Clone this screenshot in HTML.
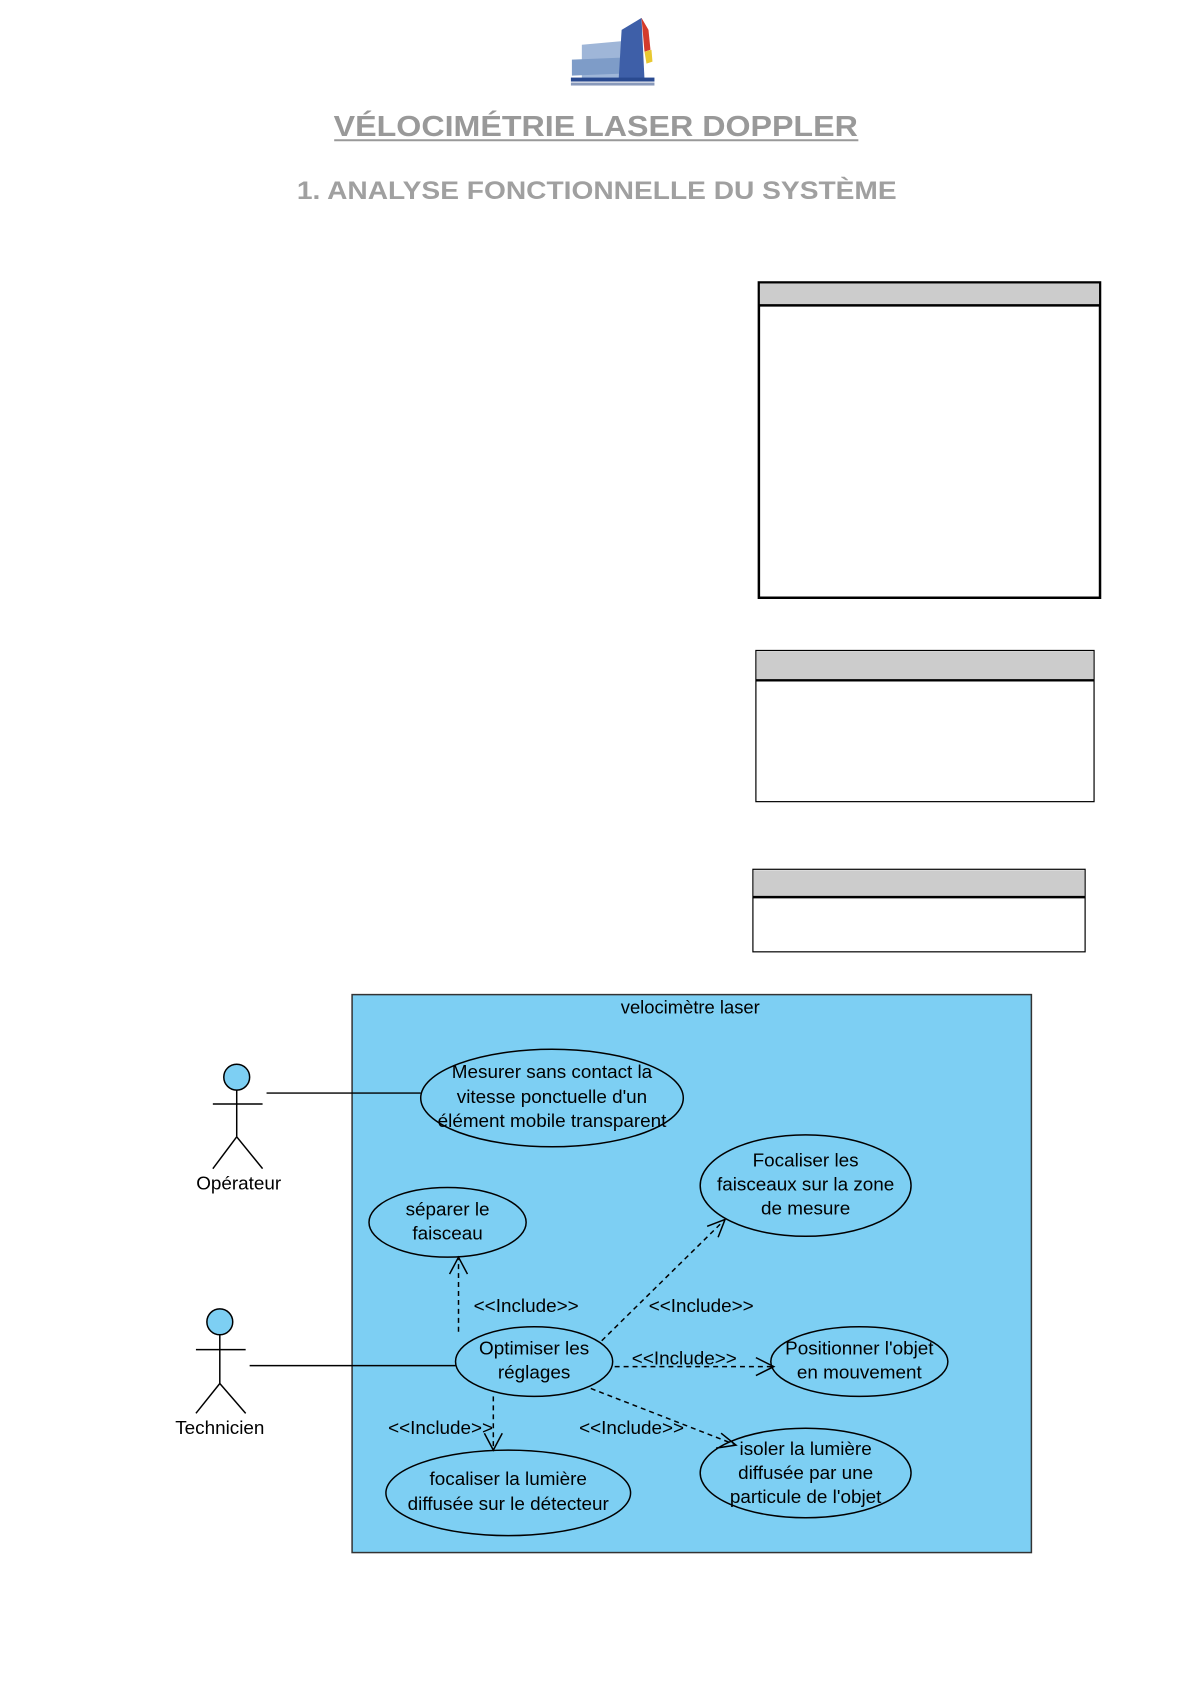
<!DOCTYPE html>
<html><head><meta charset="utf-8"><style>
body{margin:0;background:#fff;}
svg{display:block;}
text{font-family:"Liberation Sans",sans-serif;}
</style></head><body>
<svg width="1191" height="1684" viewBox="0 0 1191 1684" xmlns="http://www.w3.org/2000/svg">
<rect width="1191" height="1684" fill="#fff"/>
<g transform="scale(0.9946)">
<!-- logo -->
<polygon points="585,45 640,40 640,78 585,80" fill="#9fb6d8"/>
<polygon points="575,60 625,58 625,74 575,76" fill="#7e9cc8"/>
<polygon points="625,30 645,18 648,80 622,80" fill="#3e5fa8"/>
<polygon points="645,18 652,30 654,50 648,52" fill="#d43b2b"/>
<polygon points="648,52 655,50 656,62 650,64" fill="#e8c830"/>
<rect x="574" y="78" width="84" height="4" fill="#2a4a90"/>
<rect x="574" y="83" width="84" height="3" fill="#8899bb"/>
<!-- titles -->
<text x="599" y="137" font-size="29" font-weight="bold" fill="#999" text-anchor="middle" textLength="527" lengthAdjust="spacingAndGlyphs">VÉLOCIMÉTRIE LASER DOPPLER</text>
<line x1="336" y1="141" x2="863" y2="141" stroke="#999" stroke-width="2"/>
<text x="600" y="200" font-size="25" font-weight="bold" fill="#a0a0a0" text-anchor="middle" textLength="603" lengthAdjust="spacingAndGlyphs">1. ANALYSE FONCTIONNELLE DU SYSTÈME</text>
<!-- boxes -->
<rect x="763" y="284" width="343" height="317" fill="#fff" stroke="#000" stroke-width="2.5"/>
<rect x="764" y="285" width="341" height="21" fill="#cccccc"/>
<line x1="763" y1="307" x2="1106" y2="307" stroke="#000" stroke-width="2.5"/>
<rect x="760" y="654" width="340" height="152" fill="#fff" stroke="#000" stroke-width="1.2"/>
<rect x="761" y="655" width="338" height="28" fill="#cccccc"/>
<line x1="760" y1="684" x2="1100" y2="684" stroke="#000" stroke-width="2.5"/>
<rect x="757" y="874" width="334" height="83" fill="#fff" stroke="#000" stroke-width="1.2"/>
<rect x="758" y="875" width="332" height="26" fill="#cccccc"/>
<line x1="757" y1="902" x2="1091" y2="902" stroke="#000" stroke-width="2.5"/>
<!-- system -->
<rect x="354" y="1000" width="683" height="561" fill="#7dcff3" stroke="#333" stroke-width="1.5"/>
<text x="694" y="1019" font-size="18.5" text-anchor="middle">velocimètre laser</text>
<g fill="#7dcff3" stroke="#000" stroke-width="1.5">
<ellipse cx="555" cy="1104" rx="132" ry="49"/>
<ellipse cx="810" cy="1192" rx="106" ry="51"/>
<ellipse cx="450" cy="1229" rx="79" ry="35"/>
<ellipse cx="537" cy="1369" rx="79" ry="35"/>
<ellipse cx="864" cy="1369" rx="89" ry="35"/>
<ellipse cx="511" cy="1501" rx="123" ry="43"/>
<ellipse cx="810" cy="1481" rx="106" ry="45"/>
</g>
<g font-size="19" text-anchor="middle" fill="#000">
<text x="555" y="1084">Mesurer sans contact la</text>
<text x="555" y="1109">vitesse ponctuelle d'un</text>
<text x="555" y="1133">élément mobile transparent</text>
<text x="810" y="1173">Focaliser les</text>
<text x="810" y="1197">faisceaux sur la zone</text>
<text x="810" y="1221">de mesure</text>
<text x="450" y="1222">séparer le</text>
<text x="450" y="1246">faisceau</text>
<text x="537" y="1362">Optimiser les</text>
<text x="537" y="1386">réglages</text>
<text x="864" y="1362">Positionner l'objet</text>
<text x="864" y="1386">en mouvement</text>
<text x="511" y="1493">focaliser la lumière</text>
<text x="511" y="1518">diffusée sur le détecteur</text>
<text x="810" y="1463">isoler la lumière</text>
<text x="810" y="1487">diffusée par une</text>
<text x="810" y="1511">particule de l'objet</text>
<text x="529" y="1319">&lt;&lt;Include&gt;&gt;</text>
<text x="705" y="1319">&lt;&lt;Include&gt;&gt;</text>
<text x="688" y="1372">&lt;&lt;Include&gt;&gt;</text>
<text x="443" y="1442">&lt;&lt;Include&gt;&gt;</text>
<text x="635" y="1442">&lt;&lt;Include&gt;&gt;</text>
</g>
<!-- actors -->
<g fill="none" stroke="#000" stroke-width="1.5">
<circle cx="238" cy="1083" r="13" fill="#7dcff3"/>
<line x1="238" y1="1096" x2="238" y2="1143"/>
<line x1="214" y1="1110" x2="264" y2="1110"/>
<line x1="238" y1="1143" x2="214" y2="1175"/>
<line x1="238" y1="1143" x2="264" y2="1175"/>
<circle cx="221" cy="1329" r="13" fill="#7dcff3"/>
<line x1="221" y1="1342" x2="221" y2="1391"/>
<line x1="197" y1="1357" x2="247" y2="1357"/>
<line x1="221" y1="1391" x2="197" y2="1421"/>
<line x1="221" y1="1391" x2="247" y2="1421"/>
<line x1="268" y1="1099" x2="423" y2="1099"/>
<line x1="251" y1="1373" x2="458" y2="1373"/>
</g>
<text x="240" y="1196" font-size="19" text-anchor="middle">Opérateur</text>
<text x="221" y="1442" font-size="19" text-anchor="middle">Technicien</text>
<!-- dashed include arrows -->
<g fill="none" stroke="#000" stroke-width="1.5" stroke-dasharray="5,4">
<line x1="461" y1="1339" x2="461" y2="1266"/>
<line x1="605" y1="1348" x2="727" y2="1228"/>
<line x1="618" y1="1374" x2="776" y2="1374"/>
<line x1="496" y1="1404" x2="496" y2="1456"/>
<line x1="594" y1="1396" x2="738" y2="1452"/>
</g>
<g fill="none" stroke="#000" stroke-width="1.5">
<polyline points="452,1281 461,1264 470,1281"/>
<polyline points="711,1233 729,1226 722,1244"/>
<polyline points="760,1365 778,1374 760,1383"/>
<polyline points="487,1441 496,1458 505,1441"/>
<polyline points="725,1441 740,1453 720,1456"/>
</g>
</g>
</svg>
</body></html>
